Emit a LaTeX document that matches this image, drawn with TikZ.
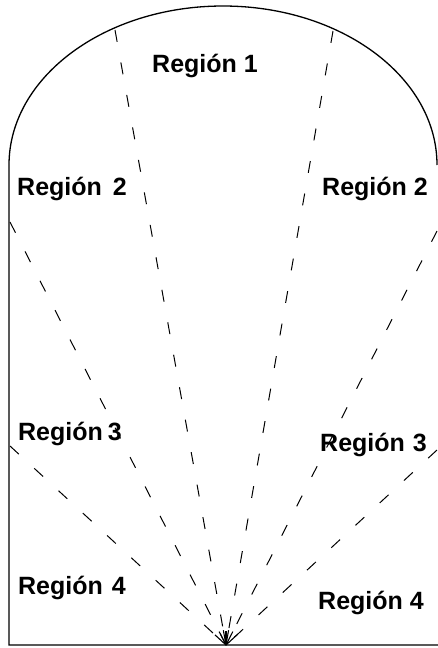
\documentclass[tikz,border=0pt]{standalone}
\usepackage{fontspec}
\setmainfont{Liberation Sans}
\usetikzlibrary{calc}
\begin{document}
\begin{tikzpicture}[x=1pt,y=-1pt,
  outline/.style={line width=1.3pt,black},
  ray/.style={line width=1pt,black,dash pattern=on 12pt off 21pt},
  raytip/.style={line width=1.1pt,black},
  lbl/.style={anchor=base west,inner sep=0pt,font=\fontsize{25}{25}\selectfont\bfseries}]
\useasboundingbox (0,0) rectangle (438,648);
% outline
\coordinate (L) at (9,165);
\coordinate (R) at (437,165);
\coordinate (BL) at (9,645);
\coordinate (BR) at (438,645);
\draw[outline] (R) arc[start angle=0,end angle=180,x radius=214,y radius=-159] -- (BL) -- (BR);
% fan origin and ray ends
\coordinate (O) at (226,645);
\coordinate (A1) at (10,446);
\coordinate (A2) at (10,222);
\coordinate (A3) at (115,30);
\coordinate (A4) at (333,31);
\coordinate (A5) at (437,231);
\coordinate (A6) at (437,450);
\foreach \a in {A1,A2,A3,A4,A5,A6}{
  \draw[ray] (\a) -- (O);
  \draw[raytip] (O) -- ($(O)!15pt!(\a)$);
}
\draw[line width=2pt] (O) -- ++(0,-14);
% labels
\node[lbl] (r1) at (152,72) {Región 1};
\node[lbl] (r2l) at (17,195) {Región\hspace{11pt}2};
\node[lbl] (r2r) at (322,195) {Región 2};
\node[lbl] (r3l) at (18,440) {Región\hspace{5pt}3};
\node[lbl] (r3r) at (320,451) {Región\hspace{8pt}3};
\node[lbl] (r4l) at (18,594) {Región\hspace{9pt}4};
\node[lbl] (r4r) at (318,609) {Región 4};
\end{tikzpicture}
\end{document}
